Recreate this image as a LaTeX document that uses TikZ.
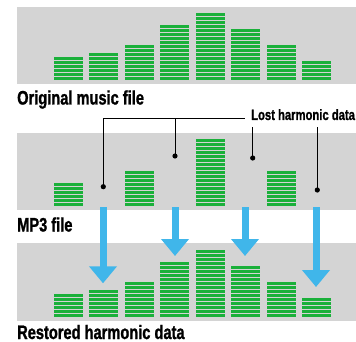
\documentclass[tikz,border=0pt]{standalone}
\usepackage{fontspec}
\newfontfamily\labfont{Liberation Sans}[FakeStretch=0.75,FakeBold=1.2]
\usetikzlibrary{arrows.meta}
\definecolor{panelgray}{RGB}{212,212,212}
\definecolor{bargreen}{RGB}{26,176,58}
\definecolor{arrowblue}{RGB}{64,182,234}
\tikzset{
  x=1pt,y=-1pt,
  panel/.style={fill=panelgray},
  stripe/.style={fill=bargreen},
  biglabel/.style={inner sep=0pt,anchor=base west,font=\labfont\bfseries\fontsize{19.5}{22}\selectfont},
  smalllabel/.style={inner sep=0pt,anchor=base west,font=\labfont\bfseries\fontsize{15}{17}\selectfont},
  dotnode/.style={circle,fill=black,inner sep=0pt,minimum size=5.2pt},
  leader/.style={draw=black,line width=1pt},
  bigarrow/.style={draw=arrowblue,line width=7pt,-{Triangle[length=17pt,width=27pt]}}
}
\begin{document}
\begin{tikzpicture}
\useasboundingbox (0,0) rectangle (356,342);
% panels
\fill[panel] (17,7) rectangle (356,84);
\fill[panel] (17,133) rectangle (356,210);
\fill[panel] (17,243) rectangle (356,321);
% panel 1 bars
\foreach \n [count=\i from 0] in {6,7,9,14,17,13,9,5}{
  \foreach \k in {1,...,\n}{
    \fill[stripe] ({54+35.43*\i},{80-4*\k+1}) rectangle ++(29,3);
  }
}
% panel 2 bars
\foreach \i/\n in {0/6,2/9,4/17,6/9}{
  \foreach \k in {1,...,\n}{
    \fill[stripe] ({54+35.43*\i},{206-4*\k+1}) rectangle ++(29,3);
  }
}
% panel 3 bars
\foreach \n [count=\i from 0] in {6,7,9,14,17,13,9,5}{
  \foreach \k in {1,...,\n}{
    \fill[stripe] ({54+35.43*\i},{317-4*\k+1}) rectangle ++(29,3);
  }
}
% labels
\node[biglabel] (orig) at (17,104.5) {Original music file};
\node[biglabel] (mp3) at (17,231.5) {MP3 file};
\node[biglabel] (rest) at (17,339) {Restored harmonic data};
\node[smalllabel] (lost) at (251,120) {Lost harmonic data};
% dots and leaders
\node[dotnode] (d1) at (103.3,186.7) {};
\node[dotnode] (d2) at (175,156) {};
\node[dotnode] (d3) at (252.7,158) {};
\node[dotnode] (d4) at (317.3,190) {};
\coordinate (lh) at (245,119);
\coordinate (lt) at (300,126.7);
\draw[leader] (d1.center) |- (lh);
\draw[leader] (d2.center) -- (d2.center |- lh);
\draw[leader] (d3.center) -- (d3.center |- lt);
\draw[leader] (d4.center) -- (d4.center |- lt);
% arrows
\coordinate (a1s) at (103,207); \coordinate (a1e) at (103,283.3);
\coordinate (a2s) at (175,207); \coordinate (a2e) at (175,256);
\coordinate (a3s) at (245,207); \coordinate (a3e) at (245,256);
\coordinate (a4s) at (316,207); \coordinate (a4e) at (316,287);
\draw[bigarrow] (a1s) -- (a1e);
\draw[bigarrow] (a2s) -- (a2e);
\draw[bigarrow] (a3s) -- (a3e);
\draw[bigarrow] (a4s) -- (a4e);
\end{tikzpicture}
\end{document}
